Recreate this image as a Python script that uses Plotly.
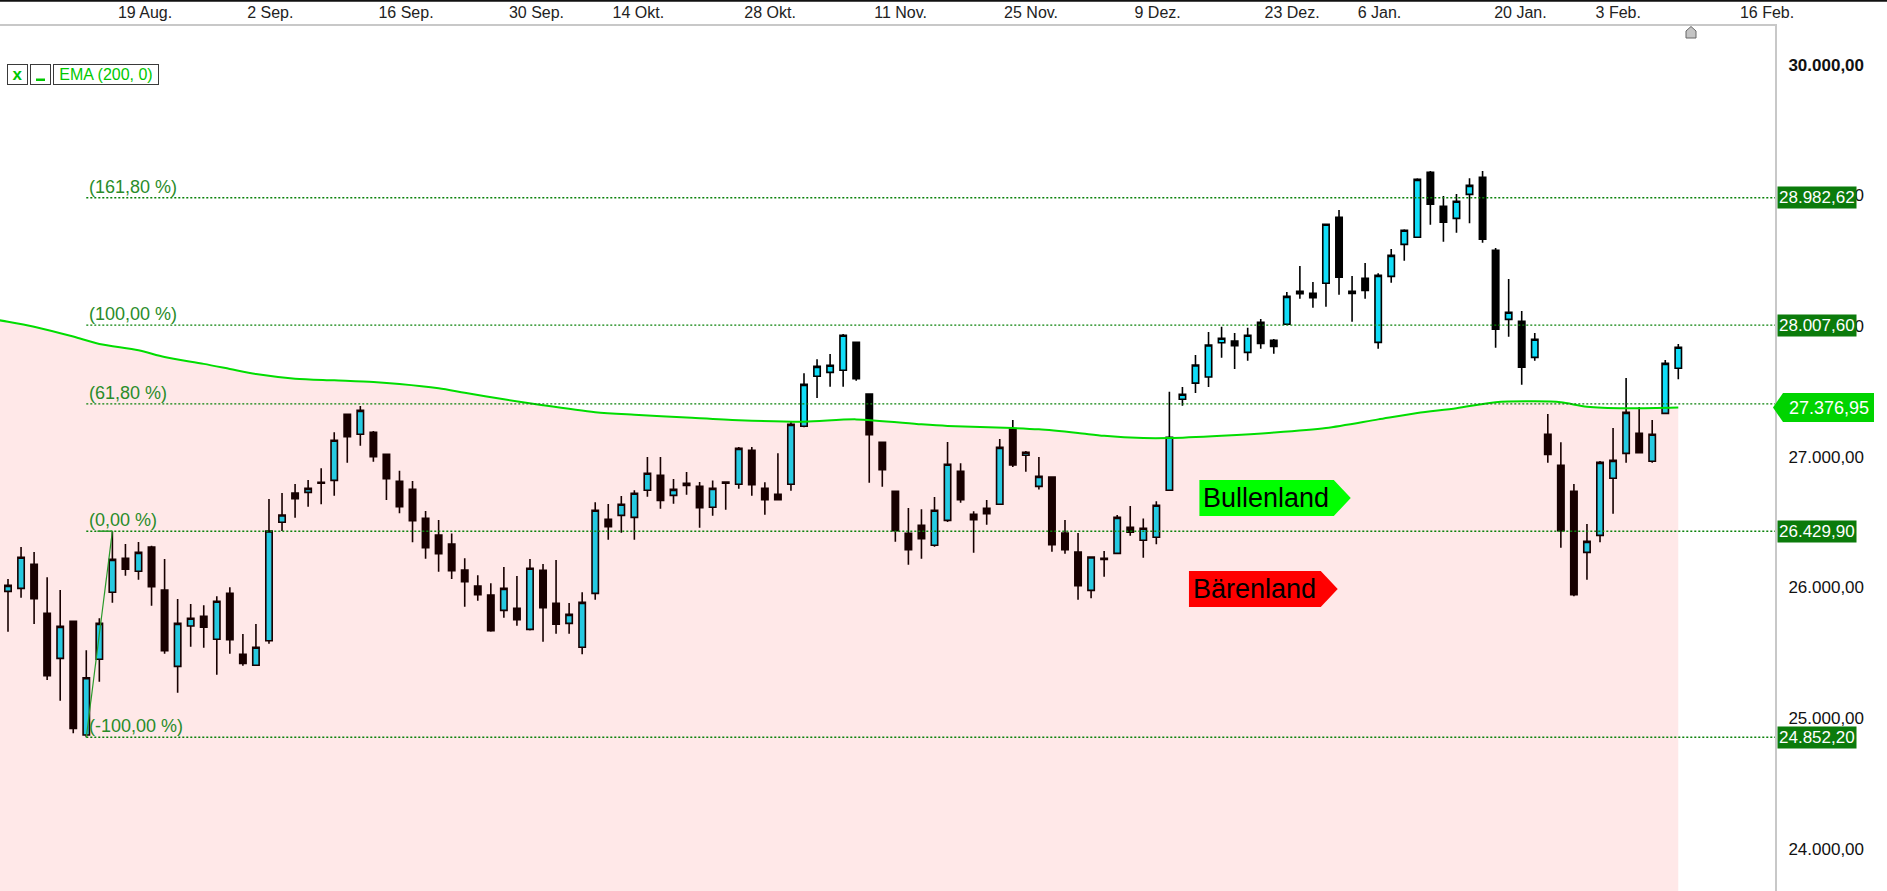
import plotly.graph_objects as go

# ---------------- data ----------------
OPEN = [25969, 25992, 26176, 25801, 25456, 25740, 24870, 25449, 25962, 26222,
        26123, 26309, 25979, 25395, 25704, 25778, 25602, 25954, 25487, 25403,
        25591, 26498, 26722, 26727, 26804, 26819, 27325, 27172, 27187, 27018,
        26812, 26750, 26528, 26400, 26332, 26132, 26010, 25941, 25824, 25839,
        25678, 26130, 25878, 25724, 25541, 25954, 26521, 26551, 26536, 26743,
        26858, 26704, 26781, 26773, 26613, 26806, 26789, 27049, 26758, 26712,
        26789, 27233, 27616, 27646, 27662, 27876, 27480, 27110, 26735, 26413,
        26475, 26322, 26513, 26888, 26559, 26605, 26636, 27212, 27011, 26773,
        26845, 26416, 26270, 25977, 26222, 26260, 26460, 26360, 26383, 26743,
        27440, 27564, 27610, 27873, 27886, 27799, 28029, 27891, 28014, 28266,
        28251, 28328, 28833, 28251, 28366, 27876, 28381, 28626, 28680, 29178,
        28917, 28825, 29009, 29139, 28580, 28052, 28037, 27761, 27172, 26934,
        26735, 26268, 26398, 26835, 27026, 27179, 26965, 27332, 27677]
HIGH = [26064, 26309, 26270, 26077, 25979, 25745, 25518, 25763, 26429.9, 26332,
        26347, 26319, 26217, 25910, 25872, 25862, 25931, 26000, 25642, 25719,
        26676, 26722, 26791, 26822, 26911, 27187, 27332, 27388, 27197, 27022,
        26893, 26814, 26584, 26515, 26413, 26222, 26092, 26031, 26156, 26087,
        26217, 26179, 26209, 25880, 25962, 26651, 26638, 26699, 26743, 26998,
        26998, 26829, 26883, 26806, 26819, 26810, 27074, 27074, 26804, 27026,
        27271, 27639, 27746, 27786, 27940, 27880, 27485, 27110, 26740, 26607,
        26597, 26692, 27113, 26950, 26582, 26669, 27136, 27281, 27044, 26998,
        26850, 26515, 26416, 26237, 26278, 26554, 26623, 26528, 26659, 27498,
        27534, 27779, 27955, 27996, 27947, 27988, 28054, 27901, 28261, 28460,
        28338, 28785, 28889, 28384, 28483, 28404, 28590, 28741, 29132, 29188,
        28996, 29012, 29132, 29188, 28598, 28361, 28116, 27947, 27327, 27110,
        26791, 26485, 26967, 27220, 27603, 27381, 27281, 27740, 27863]
LOW = [25660, 25920, 25719, 25290, 25132, 24882, 24852.2, 25277, 25882, 26089,
       26058, 25859, 25492, 25193, 25545, 25538, 25331, 25492, 25400, 25400,
       25568, 26431, 26533, 26617, 26636, 26701, 26954, 27084, 26962, 26669,
       26567, 26345, 26219, 26120, 26064, 25852, 25897, 25660, 25767, 25706,
       25670, 25584, 25645, 25645, 25487, 25905, 26365, 26418, 26365, 26694,
       26602, 26640, 26709, 26456, 26548, 26594, 26755, 26701, 26556, 26665,
       26740, 27225, 27450, 27536, 27536, 27582, 26801, 26770, 26349, 26173,
       26219, 26311, 26500, 26648, 26265, 26479, 26630, 26921, 26885, 26750,
       26273, 26257, 25905, 25916, 26081, 26255, 26395, 26227, 26329, 26738,
       27391, 27488, 27534, 27758, 27672, 27735, 27827, 27789, 28010, 28210,
       28141, 28149, 28241, 28034, 28210, 27827, 28332, 28501, 28675, 28776,
       28646, 28715, 28787, 28639, 27835, 27919, 27551, 27735, 26954, 26303,
       25931, 26058, 26345, 26564, 26954, 27025, 26954, 27325, 27593]
CLOSE = [26015, 26230, 25913, 25323, 25701, 24920, 25308, 25724, 26214, 26138,
         26268, 26005, 25515, 25724, 25763, 25694, 25893, 25599, 25418, 25541,
         26431, 26554, 26678, 26758, 26797, 27126, 27153, 27355, 27000, 26832,
         26617, 26510, 26303, 26257, 26127, 26043, 25943, 25668, 25992, 25752,
         26146, 25844, 25717, 25793, 25885, 26590, 26464, 26636, 26720, 26873,
         26666, 26750, 26797, 26610, 26758, 26797, 27064, 26786, 26671, 26671,
         27248, 27554, 27692, 27700, 27930, 27597, 27168, 26900, 26433, 26288,
         26372, 26590, 26942, 26671, 26518, 26564, 27072, 26937, 27034, 26850,
         26326, 26288, 26012, 26232, 26214, 26536, 26423, 26452, 26628, 27149,
         27478, 27702, 27855, 27907, 27850, 27930, 27868, 27845, 28228, 28248,
         28218, 28780, 28374, 28266, 28274, 28389, 28542, 28734, 29124, 28933,
         28795, 28956, 29078, 28665, 27976, 28106, 27685, 27899, 27018, 26433,
         25943, 26352, 26957, 26972, 27340, 27031, 27172, 27715, 27838]
CANDLE_IDX = list(range(len(OPEN)))

EMA_IDX = [-1, 0, 2, 5, 7, 10, 12, 15, 17, 19, 22, 25, 28, 30, 33, 35, 38, 41,
           45, 48, 52, 56, 61, 65, 70, 72, 77, 79, 82, 84, 87, 89, 93, 97, 101,
           105, 108, 111, 114, 117, 119, 121, 124, 128]
EMA_VAL = [28050, 28034, 27996, 27920, 27863, 27815, 27763, 27711, 27672, 27633,
           27598, 27585, 27572, 27557, 27524, 27490, 27440, 27394, 27341, 27321,
           27300, 27280, 27268, 27286, 27248, 27236, 27220, 27210, 27182, 27160,
           27143, 27143, 27161, 27185, 27220, 27286, 27335, 27371, 27418, 27424,
           27417, 27383, 27371, 27376.95]

FIB_PCT = ["(161,80 %)", "(100,00 %)", "(61,80 %)", "(0,00 %)", "(-100,00 %)"]
FIB_LEVEL = [28982.62, 28007.60, 27404.91, 26429.90, 24852.20]
FIB_TAGGED = [True, True, False, True, True]
FIB_START_IDX = 6
FIB_ANCHOR_IDX = [6, 8]
FIB_ANCHOR_VAL = [24852.20, 26429.90]

DATE_LABELS = ["19 Aug.", "2 Sep.", "16 Sep.", "30 Sep.", "14 Okt.", "28 Okt.",
               "11 Nov.", "25 Nov.", "9 Dez.", "23 Dez.", "6 Jan.", "20 Jan.",
               "3 Feb.", "16 Feb."]
DATE_POS = [10.5, 20.1, 30.5, 40.5, 48.3, 58.4, 68.4, 78.4, 88.1, 98.4, 105.1,
            115.9, 123.4, 134.8]

Y_TICKS = [24000, 25000, 26000, 27000, 28000, 29000, 30000]

# ---------------- layout constants ----------------
W, H = 1887, 891
ML, MR, MT, MB = 0, 112, 26, 0
PW, PH = W - ML - MR, H - MT - MB
X_RANGE = [-0.613, 135.41]
Y_RANGE = [23675, 30298]
FONT = "Liberation Sans, Arial, sans-serif"
FIB_COLOR = "#0a820a"
FIB_TEXT = "#2a8c2a"
TAG_GREEN = "#0b7b0b"
EMA_GREEN = "#00dd00"


def de(v):
    s = f"{v:,.2f}"
    return s.replace(",", "X").replace(".", ",").replace("X", ".")


def ypaper(v):
    return (v - Y_RANGE[0]) / (Y_RANGE[1] - Y_RANGE[0])


def xp(px):
    return (px - ML) / PW


def yp(py):
    return (H - MB - py) / PH


fig = go.Figure()

fig.add_trace(go.Candlestick(
    x=CANDLE_IDX, open=OPEN, high=HIGH, low=LOW, close=CLOSE,
    increasing=dict(fillcolor="#11DDF8", line=dict(color="#000000", width=1.6)),
    decreasing=dict(fillcolor="#000000", line=dict(color="#000000", width=1.6)),
    whiskerwidth=0, hoverinfo="skip", showlegend=False,
))

fig.add_trace(go.Scatter(
    x=EMA_IDX, y=EMA_VAL, mode="lines",
    line=dict(color=EMA_GREEN, width=2, shape="spline", smoothing=0.8),
    fill="tozeroy", fillcolor="rgba(255,0,0,0.09)",
    hoverinfo="skip", showlegend=False,
))

shapes = []
annotations = []

# Fibonacci levels
for pct, lvl, tagged in zip(FIB_PCT, FIB_LEVEL, FIB_TAGGED):
    shapes.append(dict(type="line", xref="x", yref="y", x0=FIB_START_IDX, x1=X_RANGE[1],
                       y0=lvl, y1=lvl, line=dict(color=FIB_COLOR, width=1.4, dash="2px,2px")))
    annotations.append(dict(x=FIB_START_IDX, y=lvl, xref="x", yref="y", text=pct,
                            xanchor="left", yanchor="bottom", xshift=1, yshift=-1,
                            showarrow=False, font=dict(family=FONT, size=18, color=FIB_TEXT)))
    if tagged:
        annotations.append(dict(x=1, y=lvl, xref="paper", yref="y", text=de(lvl),
                                xanchor="left", yanchor="middle", xshift=2,
                                showarrow=False, bgcolor=TAG_GREEN, borderpad=1,
                                font=dict(family=FONT, size=17, color="white")))

# fib anchor line
shapes.append(dict(type="line", xref="x", yref="y", x0=FIB_ANCHOR_IDX[0], x1=FIB_ANCHOR_IDX[1],
                   y0=FIB_ANCHOR_VAL[0], y1=FIB_ANCHOR_VAL[1],
                   line=dict(color="#2a9a2a", width=1.2)))
shapes.append(dict(type="line", xref="x", yref="y", x0=FIB_ANCHOR_IDX[0] + 0.85, x1=FIB_ANCHOR_IDX[1],
                   y0=FIB_ANCHOR_VAL[1], y1=FIB_ANCHOR_VAL[1],
                   line=dict(color="#2a9a2a", width=1.5)))

# EMA value tag (arrow pointing left)
ema_last = EMA_VAL[-1]
half = (14.5 / PH) * (Y_RANGE[1] - Y_RANGE[0])
ym, yt, yb = ypaper(ema_last), ypaper(ema_last + half), ypaper(ema_last - half)
x_tip, x_b, x_r = xp(1773), xp(1783), xp(1874)
shapes.append(dict(type="path", xref="paper", yref="paper",
                   path=f"M {x_tip},{ym} L {x_b},{yt} L {x_r},{yt} L {x_r},{yb} L {x_b},{yb} Z",
                   fillcolor="#00d400", line=dict(width=0)))
annotations.append(dict(x=xp(1828.5), y=ema_last, xref="paper", yref="y", text=de(ema_last),
                        xanchor="center", yanchor="middle", showarrow=False,
                        font=dict(family=FONT, size=18, color="white")))

# Bullenland / Bärenland flags
for (x0, x1, tip, y0, y1, col, label) in [
        (91.3, 101.6, 102.9, 26546, 26822, "#00ff00", "Bullenland"),
        (90.5, 100.6, 101.9, 25849, 26125, "#ff0000", "Bärenland")]:
    ymid = (y0 + y1) / 2
    shapes.append(dict(type="path", xref="x", yref="y",
                       path=f"M {x0},{y0} L {x1},{y0} L {tip},{ymid} L {x1},{y1} L {x0},{y1} Z",
                       fillcolor=col, line=dict(width=0)))
    annotations.append(dict(x=x0, y=ymid, xref="x", yref="y", text=label, xanchor="left",
                            yanchor="middle", xshift=2, showarrow=False,
                            font=dict(family=FONT, size=27, color="black")))

# legend boxes (top left)
for cx, w, txt, size, bg in [(17, 19, "<b>x</b>", 17, "white"),
                             (40.5, 19, " ", 17, "rgba(0,0,0,0)"),
                             (106, 104, "EMA (200, 0)", 16, "white")]:
    annotations.append(dict(x=xp(cx), y=yp(74.5), xref="paper", yref="paper", text=txt,
                            xanchor="center", yanchor="middle", showarrow=False,
                            width=w, height=19, bordercolor="#3a3a3a", borderwidth=1,
                            borderpad=0, bgcolor=bg,
                            font=dict(family=FONT, size=size, color="#00c800")))
# minimise glyph "_" in the second legend box
shapes.append(dict(type="rect", xref="paper", yref="paper", layer="above",
                   x0=xp(36), x1=xp(45), y0=yp(81), y1=yp(78.5),
                   fillcolor="#00c800", line=dict(width=0)))

# top black frame line and scroll marker
shapes.append(dict(type="line", xref="paper", yref="paper", x0=0, x1=W / PW,
                   y0=yp(0.8), y1=yp(0.8), line=dict(color="#111111", width=2)))
shapes.append(dict(type="path", xref="paper", yref="paper",
                   path=f"M {xp(1686)},{yp(38)} L {xp(1686)},{yp(31)} L {xp(1691)},{yp(26.5)} "
                        f"L {xp(1696)},{yp(31)} L {xp(1696)},{yp(38)} Z",
                   fillcolor="#c4c4c4", line=dict(color="#666666", width=1)))

ytext = [("<b>" + de(v) + "</b>") if v == 30000 else de(v) for v in Y_TICKS]

fig.update_layout(
    width=W, height=H,
    margin=dict(l=ML, r=MR, t=MT, b=MB, pad=0),
    paper_bgcolor="white", plot_bgcolor="white",
    showlegend=False, boxgap=0.3,
    shapes=shapes, annotations=annotations,
    xaxis=dict(range=X_RANGE, side="top", tickmode="array", tickvals=DATE_POS,
               ticktext=DATE_LABELS, showgrid=False, zeroline=False, showline=True,
               linecolor="#c8c8c8", linewidth=2, ticks="", automargin=False,
               tickfont=dict(family=FONT, size=16, color="#222222"),
               rangeslider=dict(visible=False), fixedrange=True),
    yaxis=dict(range=Y_RANGE, side="right", tickmode="array", tickvals=Y_TICKS,
               ticktext=ytext, showgrid=False, zeroline=False, showline=True,
               linecolor="#c8c8c8", linewidth=2, ticks="", automargin=False,
               ticklabelstandoff=8,
               tickfont=dict(family=FONT, size=17, color="#111111"), fixedrange=True),
)

fig.write_html(
    "out.html",
    config={"displayModeBar": False, "staticPlot": True},
    post_script="document.body.style.margin='0px';document.body.style.overflow='hidden';",
)
